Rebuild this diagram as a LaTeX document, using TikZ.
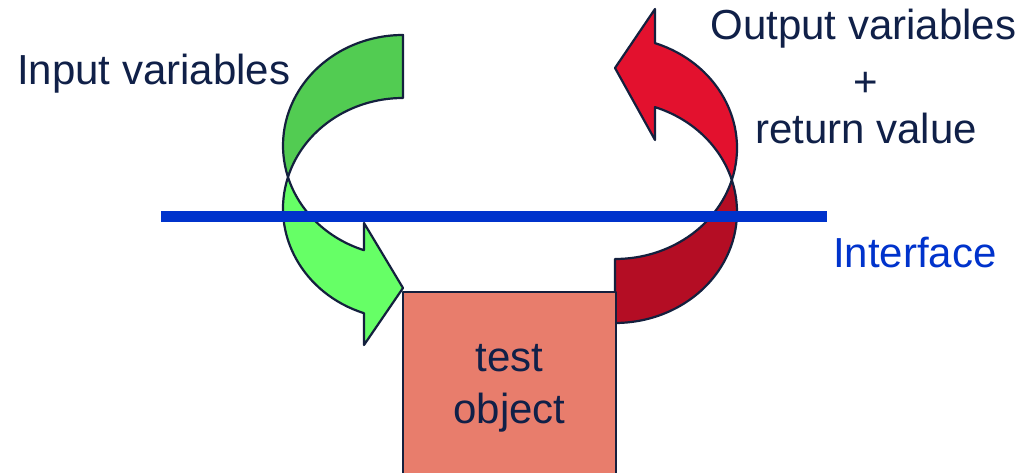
\documentclass[tikz,border=0pt]{standalone}
\usepackage{fontspec}
\setmainfont{Liberation Sans}
\definecolor{navy}{RGB}{16,32,72}
\definecolor{edge}{RGB}{20,32,62}
\definecolor{greenback}{RGB}{82,204,82}
\definecolor{greenfront}{RGB}{102,255,102}
\definecolor{redfront}{RGB}{227,17,46}
\definecolor{redback}{RGB}{180,13,36}
\definecolor{boxfill}{RGB}{232,125,108}
\definecolor{ifblue}{RGB}{0,51,204}
\tikzset{
  outline/.style={draw=edge, line width=2.2pt, line join=round},
  label/.style={text=navy, inner sep=0pt, font=\fontsize{42}{52}\selectfont},
  gell/.style={x radius=120pt, y radius=110.6pt},
  rell/.style={x radius=122pt, y radius=111pt},
}
\begin{document}
\begin{tikzpicture}[x=1pt,y=1pt]
\clip (0,0) rectangle (1026,473);
\fill[white] (0,0) rectangle (1026,473);

% ellipse centres of the two curved arrows
\coordinate (gA) at (403,327.4);
\coordinate (gB) at (403,264.4);
\coordinate (rA) at (615,261);
\coordinate (rB) at (615,325);

% green curved arrow: back face, then front face with head
\path[outline, fill=greenback]
  ([shift={(90:120pt and 110.6pt)}]gA) arc[start angle=90, end angle=196.5, gell]
  -- ([shift={(163.4:120pt and 110.6pt)}]gB) arc[start angle=163.4, end angle=90, gell]
  -- cycle;
\path[outline, fill=greenfront]
  ([shift={(163.4:120pt and 110.6pt)}]gB) arc[start angle=163.4, end angle=251, gell]
  -- (364,128) -- (403,185) -- (364,250)
  -- ([shift={(251:120pt and 110.6pt)}]gA) arc[start angle=251, end angle=196.5, gell]
  -- cycle;

% red curved arrow: back face, then front face with head
\path[outline, fill=redback]
  ([shift={(-90:122pt and 111pt)}]rA) arc[start angle=-90, end angle=16.75, rell]
  -- ([shift={(-16.75:122pt and 111pt)}]rB) arc[start angle=-16.75, end angle=-90, rell]
  -- cycle;
\path[outline, fill=redfront]
  ([shift={(-16.75:122pt and 111pt)}]rB) arc[start angle=-16.75, end angle=70.9, rell]
  -- (655,464) -- (615,405) -- (655,333)
  -- ([shift={(70.9:122pt and 111pt)}]rA) arc[start angle=70.9, end angle=16.75, rell]
  -- cycle;

% test object
\node[outline, fill=boxfill, label, minimum width=213pt, minimum height=192pt,
      align=center] (obj) at (509.5,85) {test\\object};

% interface line
\coordinate (ifL) at (161,256.5);
\coordinate (ifR) at (827,256.5);
\draw[ifblue, line width=11.5pt] (ifL) -- (ifR);

% labels
\node[label, anchor=base west] (inp) at (17,388) {Input variables};
\node[label, anchor=base] (outp) at (863.5,433) {Output variables};
\node[label, anchor=base] (plus) at (866,376) {+};
\node[label, anchor=base] (ret) at (866,329) {return value};
\node[label, anchor=base west, text=ifblue] (ifc) at (833,205) {Interface};
\end{tikzpicture}
\end{document}
